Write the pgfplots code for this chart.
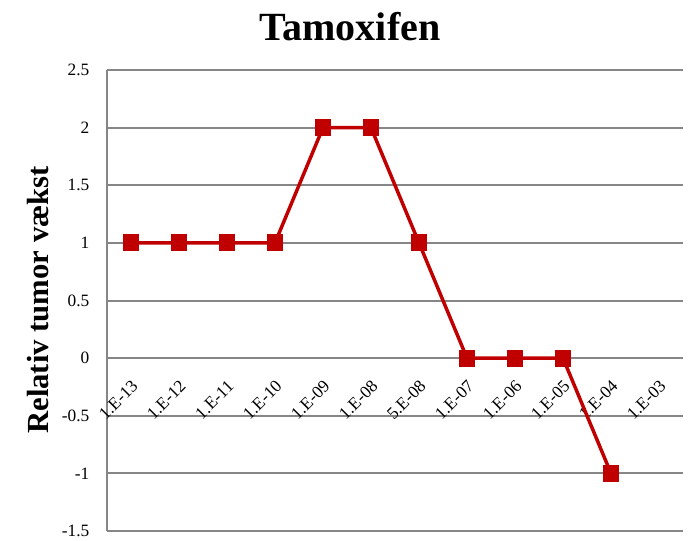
\documentclass[border=0pt]{standalone}
\usepackage{fontspec}
\setmainfont{Liberation Serif}
\usepackage{pgfplots}
\pgfplotsset{compat=1.18}
\definecolor{gridgray}{HTML}{868686}
\definecolor{linered}{HTML}{C00000}
\begin{document}
\begin{tikzpicture}
\useasboundingbox (-80.25pt,-6.75pt) rectangle (436.5pt,398.25pt);
\begin{axis}[at={(0,0)}, anchor=south west, scale only axis, width=432pt, height=345.75pt,
 xmin=-0.5, xmax=11.5, ymin=-1.5, ymax=2.5,
 axis x line=middle, axis y line=left, axis line style={-, gridgray, line width=1.5pt},
 ytick={-1.5,-1,-0.5,0,0.5,1,1.5,2,2.5}, ymajorgrids, grid style={gridgray, line width=1.5pt},
 xtick={0,...,11},
 xticklabels={1.E-13,1.E-12,1.E-11,1.E-10,1.E-09,1.E-08,5.E-08,1.E-07,1.E-06,1.E-05,1.E-04,1.E-03},
 major tick length=0pt,
 /pgf/number format/assume math mode=true,
 tick label style={font=\fontsize{13}{15}\selectfont},
 yticklabel style={anchor=east, inner sep=0pt, xshift=-13pt},
 xticklabel style={inner sep=0pt, xshift=3pt, yshift=-19pt, rotate=45, anchor=east},
 clip=false
]
\addplot[linered, line width=2.6pt, mark=square*, mark size=5pt, mark options={solid}] coordinates {
(0,1) (1,1) (2,1) (3,1) (4,2) (5,2) (6,1) (7,0) (8,0) (9,0) (10,-1)
};
\end{axis}
\node[font=\bfseries\fontsize{30}{32}\selectfont] at (182.25pt,378pt) {Tamoxifen};
\node[rotate=90, font=\bfseries\fontsize{23}{25}\selectfont] at (-51.75pt,173.25pt) {Relativ tumor vækst};
\end{tikzpicture}
\end{document}
